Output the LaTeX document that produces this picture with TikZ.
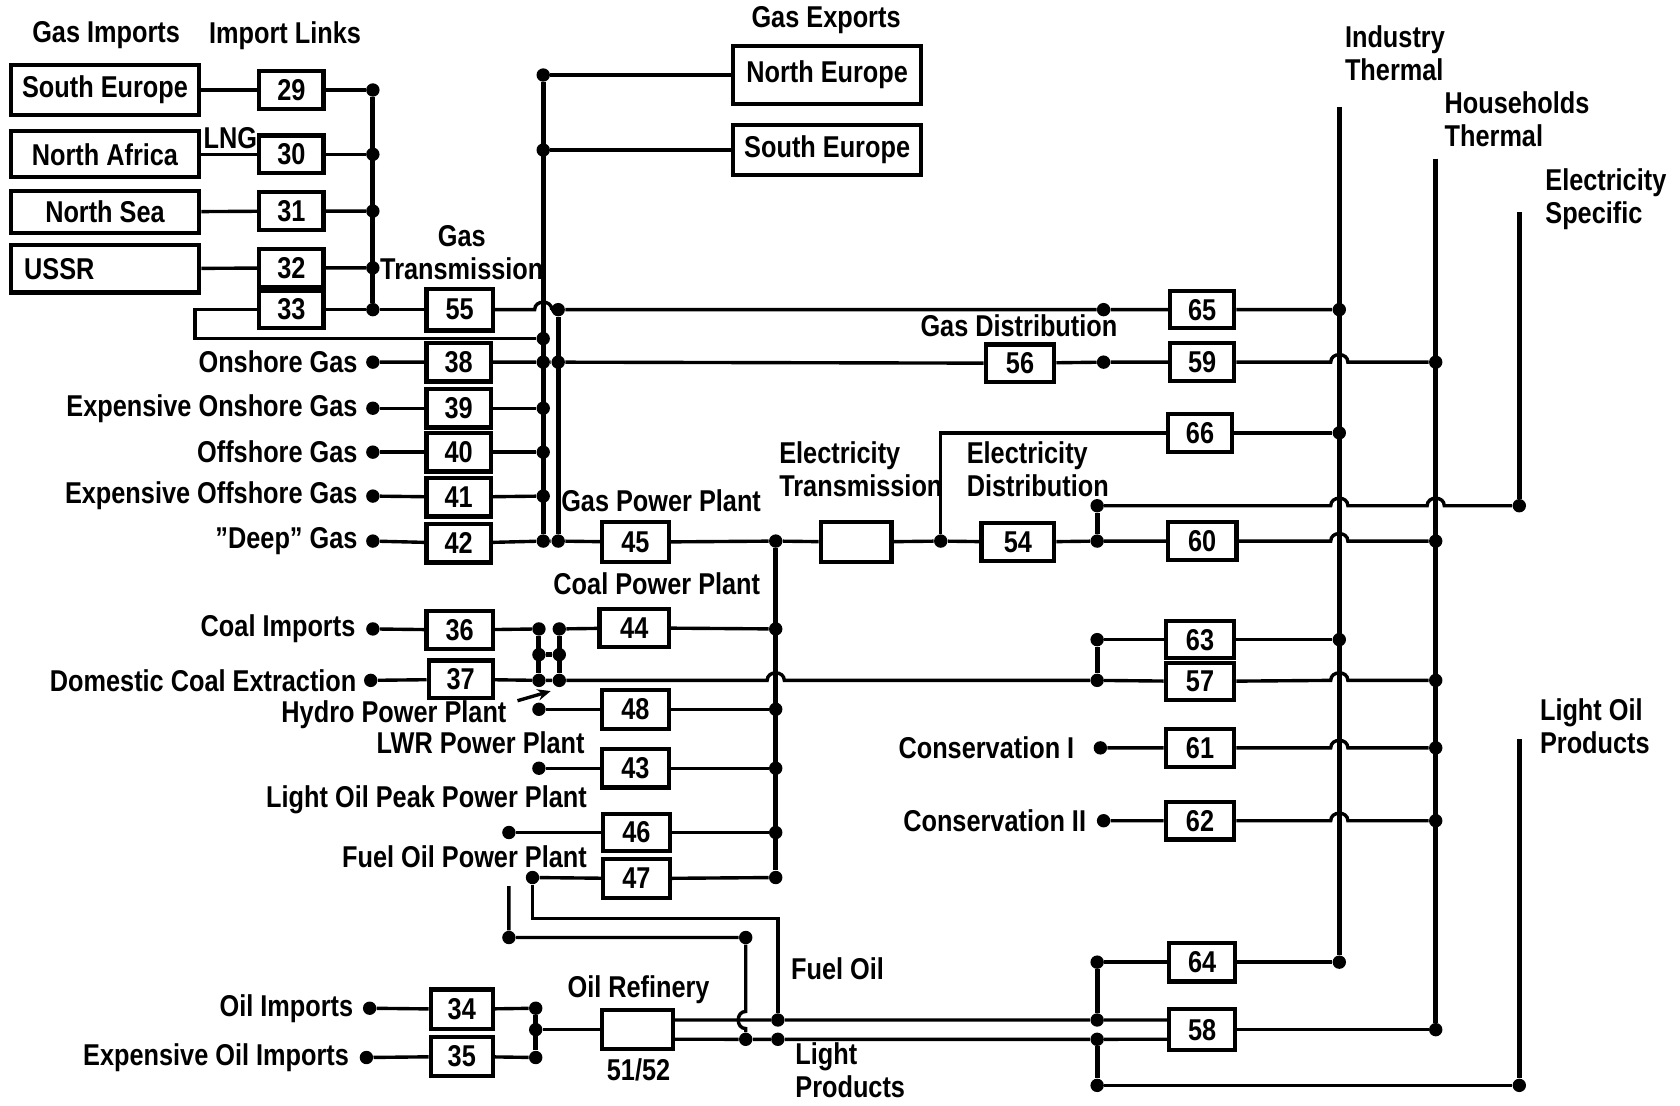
\documentclass[tikz,border=0pt]{standalone}
\usepackage{fontspec}
\setmainfont{Liberation Sans}[FakeStretch=0.84]
\usepackage{xcolor}
\usepackage{tikz}
\usetikzlibrary{calc,arrows.meta}
\colorlet{strokeColor}{black}
\colorlet{textColor}{black}
\newcommand{\labelFont}{\fontsize{16}{17.6}\selectfont\bfseries}
\newcommand{\hopAt}[1]{-- ($(#1)+(-8,0)$) to[hop] ($(#1)+(8,0)$)}
\tikzset{
  wire/.style={color=strokeColor, line width=1.8pt},
  bus/.style={color=strokeColor, line width=2.6pt},
  box/.style={draw=strokeColor, line width=2.2pt, fill=white, inner sep=0pt,
    minimum width=1.2cm, minimum height=0.7cm, text=textColor, font=\labelFont},
  bigbox/.style={box, minimum width=3.52cm, minimum height=0.9cm},
  lbl/.style={text=textColor, inner sep=0pt, font=\labelFont},
  dot/.style={circle, fill=strokeColor, inner sep=0pt, minimum size=0.25cm},
  hop/.style={out=90, in=90, looseness=1.5},
  vhop/.style={out=180, in=180, looseness=1.5},
}

\begin{document}
\begin{tikzpicture}[x=0.02cm, y=-0.02cm]
  \useasboundingbox (0,0) rectangle (1568,1032);

  % gas imports and import links
  \node[lbl] (hdImp) at (99,33) {Gas Imports};
  \node[lbl] (hdLinks) at (266,33) {Import Links};
  \node[bigbox, minimum height=0.94cm] (srcSE) at (98,84) {South Europe};
  \node[bigbox, minimum height=0.86cm] (srcNA) at (98,144) {North Africa};
  \node[bigbox, minimum height=0.78cm] (srcNS) at (98,198) {North Sea};
  \node[bigbox, minimum height=0.88cm, text width=3.02cm, align=left] (srcSU) at (98,251) {USSR};
  \node[lbl] (lbLng) at (215,129) {LNG};
  \node[box] (b29) at (272,84) {29};
  \node[box] (b30) at (272,144) {30};
  \node[box] (b31) at (272,197) {31};
  \node[box] (b32) at (272,250) {32};
  \node[box] (b33) at (272,289) {33};
  \node[dot] (d29) at (348,84) {};
  \node[dot] (d30) at (348,144) {};
  \node[dot] (d31) at (348,197) {};
  \node[dot] (d32) at (348,250) {};
  \node[dot] (d33) at (348,289) {};
  \draw[wire] (srcSE) -- (b29) -- (d29);
  \draw[wire] (srcNA) -- (b30) -- (d30);
  \draw[wire] (srcNS) -- (b31) -- (d31);
  \draw[wire] (srcSU) -- (b32) -- (d32);
  \draw[bus] (d29) -- (d33);

  % gas transmission
  \node[lbl, align=center] (lbGasTr) at (431,236) {Gas\\Transmission};
  \node[box, minimum width=1.24cm, minimum height=0.78cm] (b55) at (429,289) {55};
  \draw[wire] (b33) -- (d33) -- (b55);
  \coordinate (cLoopA) at (182,289);
  \coordinate (cLoopB) at (182,316);
  \coordinate (cHop55) at (507,289);

  % gas exports
  \node[lbl] (hdExp) at (771,19) {Gas Exports};
  \node[bigbox, minimum width=3.5cm, minimum height=1.08cm] (expNE) at (772,70) {North Europe};
  \node[bigbox, minimum height=0.94cm] (expSE) at (772,140) {South Europe};
  \node[dot] (dNE) at (507,70) {};
  \node[dot] (dSE) at (507,140) {};
  \draw[wire] (dNE) -- (expNE);
  \draw[wire] (dSE) -- (expSE);

  % domestic gas
  \node[lbl, anchor=east] (lbOn) at (334,338) {Onshore Gas};
  \node[lbl, anchor=east] (lbOnX) at (334,381) {Expensive Onshore Gas};
  \node[lbl, anchor=east] (lbOff) at (334,422) {Offshore Gas};
  \node[lbl, anchor=east] (lbOffX) at (334,463) {Expensive Offshore Gas};
  \node[lbl, anchor=east] (lbDeep) at (334,505) {''Deep'' Gas};
  \node[dot] (sOn) at (348,338) {};
  \node[dot] (sOnX) at (348,381) {};
  \node[dot] (sOff) at (348,422) {};
  \node[dot] (sOffX) at (348,463) {};
  \node[dot] (sDeep) at (348,505) {};
  \node[box, minimum height=0.72cm] (b38) at (428,338) {38};
  \node[box, minimum height=0.72cm] (b39) at (428,381) {39};
  \node[box, minimum height=0.72cm] (b40) at (428,422) {40};
  \node[box, minimum height=0.72cm] (b41) at (428,464) {41};
  \node[box, minimum height=0.72cm] (b42) at (428,507) {42};
  \node[dot] (dLoop) at (507,316) {};
  \node[dot] (d38) at (507,338) {};
  \node[dot] (d39) at (507,381) {};
  \node[dot] (d40) at (507,422) {};
  \node[dot] (d41) at (507,463) {};
  \node[dot] (d42) at (507,505) {};
  \node[dot] (dR55) at (521,289) {};
  \node[dot] (dR38) at (521,338) {};
  \node[dot] (dR45) at (521,505) {};
  \draw[bus] (dNE) -- (d42);
  \draw[bus] (dR55) -- (dR45);
  \draw[wire] (b33) -- (cLoopA) -- (cLoopB) -- (dLoop);
  \draw[wire] (sOnX) -- (b39) -- (d39);
  \draw[wire] (sOff) -- (b40) -- (d40);
  \draw[wire] (sOffX) -- (b41) -- (d41);

  % end uses
  \node[lbl, anchor=west, align=left] (lbInd) at (1255,50) {Industry\\Thermal};
  \node[lbl, anchor=west, align=left] (lbHh) at (1348,111) {Households\\Thermal};
  \node[lbl, anchor=west, align=left] (lbEs) at (1442,186) {Electricity\\Specific};
  \node[lbl, anchor=west, align=left] (lbLop) at (1437,678) {Light Oil\\Products};
  \coordinate (cIndTop) at (1250,100);
  \coordinate (cHhTop) at (1340,148);
  \coordinate (cEsTop) at (1418,198);
  \coordinate (cLopTop) at (1418,690);
  \node[dot] (iD65) at (1250,289) {};
  \node[dot] (iD66) at (1250,404) {};
  \node[dot] (iD63) at (1250,597) {};
  \node[dot] (iD64) at (1250,898) {};
  \node[dot] (hD59) at (1340,338) {};
  \node[dot] (hD60) at (1340,505) {};
  \node[dot] (hD57) at (1340,635) {};
  \node[dot] (hD61) at (1340,698) {};
  \node[dot] (hD62) at (1340,766) {};
  \node[dot] (hD58) at (1340,961) {};
  \node[dot] (dEsB) at (1418,472) {};
  \node[dot] (dLop) at (1418,1013) {};
  \draw[bus] (cIndTop) -- (iD64);
  \draw[bus] (cHhTop) -- (hD58);
  \draw[bus] (cEsTop) -- (dEsB);
  \draw[bus] (cLopTop) -- (dLop);
  \coordinate (cHop59) at (1250,338);
  \coordinate (cHop60) at (1250,505);
  \coordinate (cHopEs1) at (1250,472);
  \coordinate (cHopEs2) at (1340,472);
  \coordinate (cHop57a) at (724,635);
  \coordinate (cHop57b) at (1250,635);
  \coordinate (cHop61) at (1250,698);
  \coordinate (cHop62) at (1250,766);

  % gas distribution
  \node[lbl] (lbGasDist) at (951,304) {Gas Distribution};
  \node[dot] (dD65) at (1030,289) {};
  \node[dot] (dD59) at (1030,338) {};
  \node[box, minimum width=1.28cm] (b56) at (952,339) {56};
  \node[box] (b65) at (1122,289) {65};
  \node[box] (b59) at (1122,338) {59};
  \draw[wire] (b55) \hopAt{cHop55} -- (dR55) -- (dD65) -- (b65) -- (iD65);
  \draw[wire] (sOn) -- (b38) -- (d38) -- (dR38) -- (b56) -- (dD59) -- (b59) \hopAt{cHop59} -- (hD59);

  % electricity
  \node[lbl] (lbGasPP) at (617,467) {Gas Power Plant};
  \node[lbl, anchor=west, align=left] (lbElTr) at (727,438) {Electricity\\Transmission};
  \node[lbl, anchor=west, align=left] (lbElDist) at (902,438) {Electricity\\Distribution};
  \node[box, minimum width=1.24cm, minimum height=0.74cm] (b45) at (593,506) {45};
  \node[dot] (dP45) at (724,505) {};
  \node[box, minimum width=1.32cm, minimum height=0.74cm] (bTr) at (799,506) {};
  \node[dot] (dEd) at (878,505) {};
  \node[box, minimum width=1.36cm] (b54) at (950,506) {54};
  \node[dot] (dE60) at (1024,505) {};
  \node[dot] (dEs) at (1024,472) {};
  \node[box, minimum width=1.28cm] (b60) at (1122,505) {60};
  \coordinate (cE66) at (878,404);
  \node[box] (b66) at (1120,404) {66};
  \draw[wire] (sDeep) -- (b42) -- (d42) -- (dR45) -- (b45) -- (dP45) -- (bTr) -- (dEd) -- (b54) -- (dE60) -- (b60) \hopAt{cHop60} -- (hD60);
  \draw[wire] (dEd) -- (cE66) -- (b66) -- (iD66);
  \draw[bus] (dE60) -- (dEs);
  \draw[wire] (dEs) \hopAt{cHopEs1} \hopAt{cHopEs2} -- (dEsB);

  % coal
  \node[lbl] (lbCoalPP) at (613,545) {Coal Power Plant};
  \node[lbl, anchor=east] (lbCoal) at (332,587) {Coal Imports};
  \node[lbl, anchor=east] (lbDom) at (333,635) {Domestic Coal Extraction};
  \node[dot] (sCoal) at (348,587) {};
  \node[dot] (sDom) at (346,635) {};
  \node[box, minimum width=1.24cm] (b36) at (429,588) {36};
  \node[box, minimum width=1.2cm] (b37) at (430,634) {37};
  \node[dot] (dC1) at (503,587) {};
  \node[dot] (dC2) at (503,611) {};
  \node[dot] (dC3) at (503,635) {};
  \node[dot] (dC4) at (522,587) {};
  \node[dot] (dC5) at (522,611) {};
  \node[dot] (dC6) at (522,635) {};
  \node[box, minimum width=1.3cm] (b44) at (592,586) {44};
  \node[dot] (dP44) at (724,587) {};
  \node[dot] (dC63) at (1024,597) {};
  \node[dot] (dC57) at (1024,635) {};
  \node[box, minimum width=1.28cm] (b63) at (1120,597) {63};
  \node[box, minimum width=1.28cm] (b57) at (1120,636) {57};
  \draw[wire] (sCoal) -- (b36) -- (dC1);
  \draw[bus] (dC1) -- (dC3);
  \draw[bus] (dC4) -- (dC6);
  \draw[bus] (dC2) -- (dC5);
  \draw[wire] (dC4) -- (b44) -- (dP44);
  \draw[wire] (sDom) -- (b37) -- (dC3) -- (dC6) \hopAt{cHop57a} -- (dC57) -- (b57) \hopAt{cHop57b} -- (hD57);
  \draw[bus] (dC57) -- (dC63);
  \draw[wire] (dC63) -- (b63) -- (iD63);

  % other power plants
  \node[lbl, anchor=east] (lbHydro) at (473,667) {Hydro Power Plant};
  \node[lbl, anchor=east] (lbLwr) at (546,693) {LWR Power Plant};
  \node[lbl, anchor=east] (lbLoPP) at (548,746) {Light Oil Peak Power Plant};
  \node[lbl, anchor=east] (lbFoPP) at (548,800) {Fuel Oil Power Plant};
  \coordinate (cArrA) at (483,654);
  \coordinate (cArrB) at (514,645);
  \draw[wire, -{Stealth[length=7pt, width=6pt]}] (cArrA) -- (cArrB);
  \node[dot] (dHy) at (503,662) {};
  \node[dot] (dLwr) at (503,717) {};
  \node[dot] (dLo) at (475,777) {};
  \node[dot] (dFo) at (497,819) {};
  \node[box, minimum width=1.26cm, minimum height=0.72cm] (b48) at (593,662) {48};
  \node[box, minimum width=1.26cm, minimum height=0.72cm] (b43) at (593,717) {43};
  \node[box, minimum width=1.24cm, minimum height=0.7cm] (b46) at (594,777) {46};
  \node[box, minimum width=1.24cm, minimum height=0.72cm] (b47) at (594,820) {47};
  \node[dot] (dP48) at (724,662) {};
  \node[dot] (dP43) at (724,717) {};
  \node[dot] (dP46) at (724,777) {};
  \node[dot] (dP47) at (724,819) {};
  \draw[wire] (dHy) -- (b48) -- (dP48);
  \draw[wire] (dLwr) -- (b43) -- (dP43);
  \draw[wire] (dLo) -- (b46) -- (dP46);
  \draw[wire] (dFo) -- (b47) -- (dP47);
  \draw[bus] (dP45) -- (dP47);

  % oil
  \node[lbl, anchor=east] (lbOil) at (330,941) {Oil Imports};
  \node[lbl, anchor=east] (lbOilX) at (326,987) {Expensive Oil Imports};
  \node[dot] (sOil) at (345,941) {};
  \node[dot] (sOilX) at (342,987) {};
  \node[box, minimum width=1.16cm, minimum height=0.74cm] (b34) at (431,942) {34};
  \node[box, minimum width=1.16cm, minimum height=0.72cm] (b35) at (431,986) {35};
  \node[dot] (dO1) at (500,941) {};
  \node[dot] (dOm) at (500,961) {};
  \node[dot] (dO2) at (500,987) {};
  \node[lbl] (lbRef) at (596,924) {Oil Refinery};
  \node[lbl] (lbRefNo) at (596,999) {51/52};
  \node[box, minimum width=1.32cm, minimum height=0.72cm] (bRef) at (595,961) {};
  \node[lbl, anchor=west] (lbFuel) at (738,904) {Fuel Oil};
  \node[lbl, anchor=west, align=left] (lbLight) at (742,999) {Light\\Products};
  \draw[wire] (sOil) -- (b34) -- (dO1);
  \draw[wire] (sOilX) -- (b35) -- (dO2);
  \draw[bus] (dO1) -- (dO2);
  \draw[wire] (dOm) -- (bRef);

  % oil routes to the power plants
  \coordinate (cLoTop) at (475,827);
  \node[dot] (dLo2) at (475,875) {};
  \node[dot] (dLo3) at (696,875) {};
  \coordinate (cHopFo) at (696,952);
  \node[dot] (dLo4) at (696,970) {};
  \coordinate (cFo1) at (497,857);
  \coordinate (cFo2) at (726,857);
  \node[dot] (dFo3) at (726,952) {};
  \node[dot] (dLp2) at (726,970) {};
  \draw[wire] (cLoTop) -- (dLo2) -- (dLo3) -- ($(cHopFo)+(0,-8)$) to[vhop] ($(cHopFo)+(0,8)$) -- (dLo4);
  \draw[wire] (dFo) -- (cFo1) -- (cFo2) -- (dFo3);

  % oil products
  \node[dot] (d64) at (1024,898) {};
  \node[dot] (dFl) at (1024,952) {};
  \node[dot] (dLl) at (1024,970) {};
  \node[dot] (dLb) at (1024,1013) {};
  \node[box, minimum width=1.24cm, minimum height=0.72cm] (b64) at (1122,898) {64};
  \node[box, minimum width=1.24cm, minimum height=0.76cm] (b58) at (1122,961) {58};
  \draw[wire] ([yshift=0.18cm]bRef.east) -- (dFo3) -- (dFl) -- ([yshift=0.18cm]b58.west);
  \draw[wire] ([yshift=-0.18cm]bRef.east) -- (dLo4) -- (dLp2) -- (dLl) -- ([yshift=-0.18cm]b58.west);
  \draw[wire] (b58) -- (hD58);
  \draw[wire] (d64) -- (b64) -- (iD64);
  \draw[bus] (d64) -- (dFl);
  \draw[bus] (dLl) -- (dLb);
  \draw[wire] (dLb) -- (dLop);

  % conservation
  \node[lbl, anchor=east] (lbCons1) at (1003,698) {Conservation I};
  \node[lbl, anchor=east] (lbCons2) at (1014,766) {Conservation II};
  \node[dot] (sC1) at (1027,698) {};
  \node[dot] (sC2) at (1030,766) {};
  \node[box, minimum width=1.28cm] (b61) at (1120,698) {61};
  \node[box, minimum width=1.28cm] (b62) at (1120,766) {62};
  \draw[wire] (sC1) -- (b61) \hopAt{cHop61} -- (hD61);
  \draw[wire] (sC2) -- (b62) \hopAt{cHop62} -- (hD62);
\end{tikzpicture}
\end{document}
